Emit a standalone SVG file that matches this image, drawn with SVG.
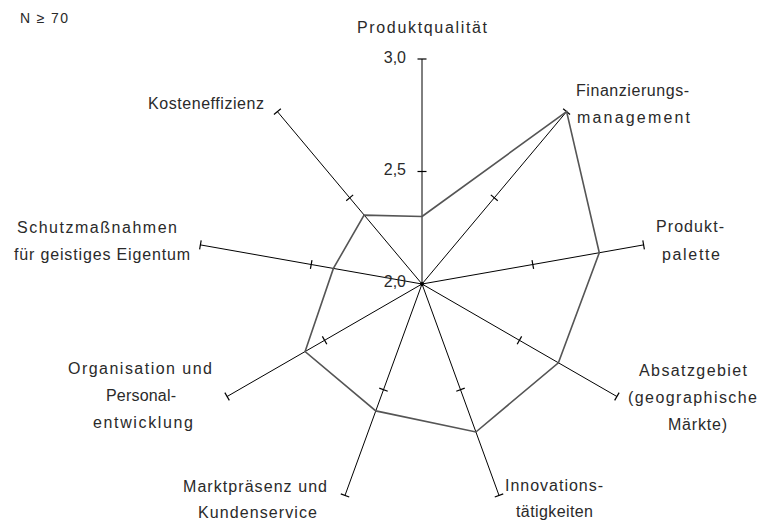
<svg xmlns="http://www.w3.org/2000/svg" width="760" height="520" viewBox="0 0 760 520">
  <defs>
    <style>
      .lbl { font-family: "Liberation Sans", Arial, sans-serif; font-size: 16px; fill: #2a2a2a; text-anchor: middle; }
      .num { font-family: "Liberation Sans", Arial, sans-serif; font-size: 16px; fill: #2a2a2a; text-anchor: end; }
      .note { font-family: "Liberation Sans", Arial, sans-serif; font-size: 14px; fill: #2a2a2a; }
      .axis { fill: none; stroke: #000; stroke-width: 1; marker-mid: url(#tick); marker-end: url(#tick); }
      .profile { fill: none; stroke: #555; stroke-width: 1.6; stroke-linejoin: miter; }
    </style>
    <!-- short cross tick, perpendicular to the axis direction -->
    <marker id="tick" markerUnits="userSpaceOnUse" markerWidth="2" markerHeight="10" viewBox="0 0 2 10" refX="1" refY="5" orient="auto" overflow="visible">
      <path d="M1 0.5 V9.5" stroke="#000" stroke-width="1.2"/>
    </marker>
  </defs>

  <rect width="760" height="520" fill="#fff"/>

  <text class="note" x="20" y="23" textLength="48" lengthAdjust="spacing">N ≥ 70</text>

  <!-- axes: centre -> 2,5 -> 3,0, nine spokes 40° apart -->
  <g id="connectors">
    <polyline class="axis" points="422,284 422,171.5 422,59"/>
    <polyline class="axis" points="422,284 494.3,197.8 566.6,111.6"/>
    <polyline class="axis" points="422,284 532.8,264.5 643.6,244.9"/>
    <polyline class="axis" points="422,284 519.4,340.3 616.9,396.5"/>
    <polyline class="axis" points="422,284 460.5,389.7 499,495.4"/>
    <polyline class="axis" points="422,284 383.5,389.7 345,495.4"/>
    <polyline class="axis" points="422,284 324.6,340.3 227.1,396.5"/>
    <polyline class="axis" points="422,284 311.2,264.5 200.4,244.9"/>
    <polyline class="axis" points="422,284 349.7,197.8 277.4,111.6"/>
  </g>

  <!-- score profile -->
  <polygon id="profile" class="profile" points="422,216.5 566.6,111.6 599.3,252.7 558.4,362.8 475.9,432 375.8,410.9 305.1,351.5 333.4,268.4 364.1,215.1"/>

  <circle cx="422" cy="284" r="2" fill="#000"/>

  <g id="scale">
    <text class="num" x="406" y="63">3,0</text>
    <text class="num" x="406" y="175">2,5</text>
    <text class="num" x="406" y="287">2,0</text>
  </g>

  <g id="produktqualitaet">
    <text class="lbl" x="422" y="33" textLength="130" lengthAdjust="spacing">Produktqualität</text>
  </g>
  <g id="finanzierungsmanagement">
    <text class="lbl" x="632.5" y="96" textLength="113" lengthAdjust="spacing">Finanzierungs-</text>
    <text class="lbl" x="633.5" y="123" textLength="113" lengthAdjust="spacing">management</text>
  </g>
  <g id="produktpalette">
    <text class="lbl" x="690" y="232" textLength="68" lengthAdjust="spacing">Produkt-</text>
    <text class="lbl" x="691" y="260" textLength="58" lengthAdjust="spacing">palette</text>
  </g>
  <g id="absatzgebiet">
    <text class="lbl" x="693" y="376" textLength="108" lengthAdjust="spacing">Absatzgebiet</text>
    <text class="lbl" x="692.5" y="403" textLength="129" lengthAdjust="spacing">(geographische</text>
    <text class="lbl" x="697.5" y="430" textLength="59" lengthAdjust="spacing">Märkte)</text>
  </g>
  <g id="innovationstaetigkeiten">
    <text class="lbl" x="554" y="491" textLength="98" lengthAdjust="spacing">Innovations-</text>
    <text class="lbl" x="554.5" y="517" textLength="77" lengthAdjust="spacing">tätigkeiten</text>
  </g>
  <g id="marktpraesenz">
    <text class="lbl" x="255" y="492" textLength="144" lengthAdjust="spacing">Marktpräsenz und</text>
    <text class="lbl" x="257.5" y="518" textLength="119" lengthAdjust="spacing">Kundenservice</text>
  </g>
  <g id="organisation">
    <text class="lbl" x="140" y="374" textLength="144" lengthAdjust="spacing">Organisation und</text>
    <text class="lbl" x="141" y="401" textLength="70" lengthAdjust="spacing">Personal-</text>
    <text class="lbl" x="143" y="428" textLength="100" lengthAdjust="spacing">entwicklung</text>
  </g>
  <g id="schutzmassnahmen">
    <text class="lbl" x="97" y="233" textLength="160" lengthAdjust="spacing">Schutzmaßnahmen</text>
    <text class="lbl" x="102" y="260" textLength="176" lengthAdjust="spacing">für geistiges Eigentum</text>
  </g>
  <g id="kosteneffizienz">
    <text class="lbl" x="206" y="109" textLength="116" lengthAdjust="spacing">Kosteneffizienz</text>
  </g>
</svg>
